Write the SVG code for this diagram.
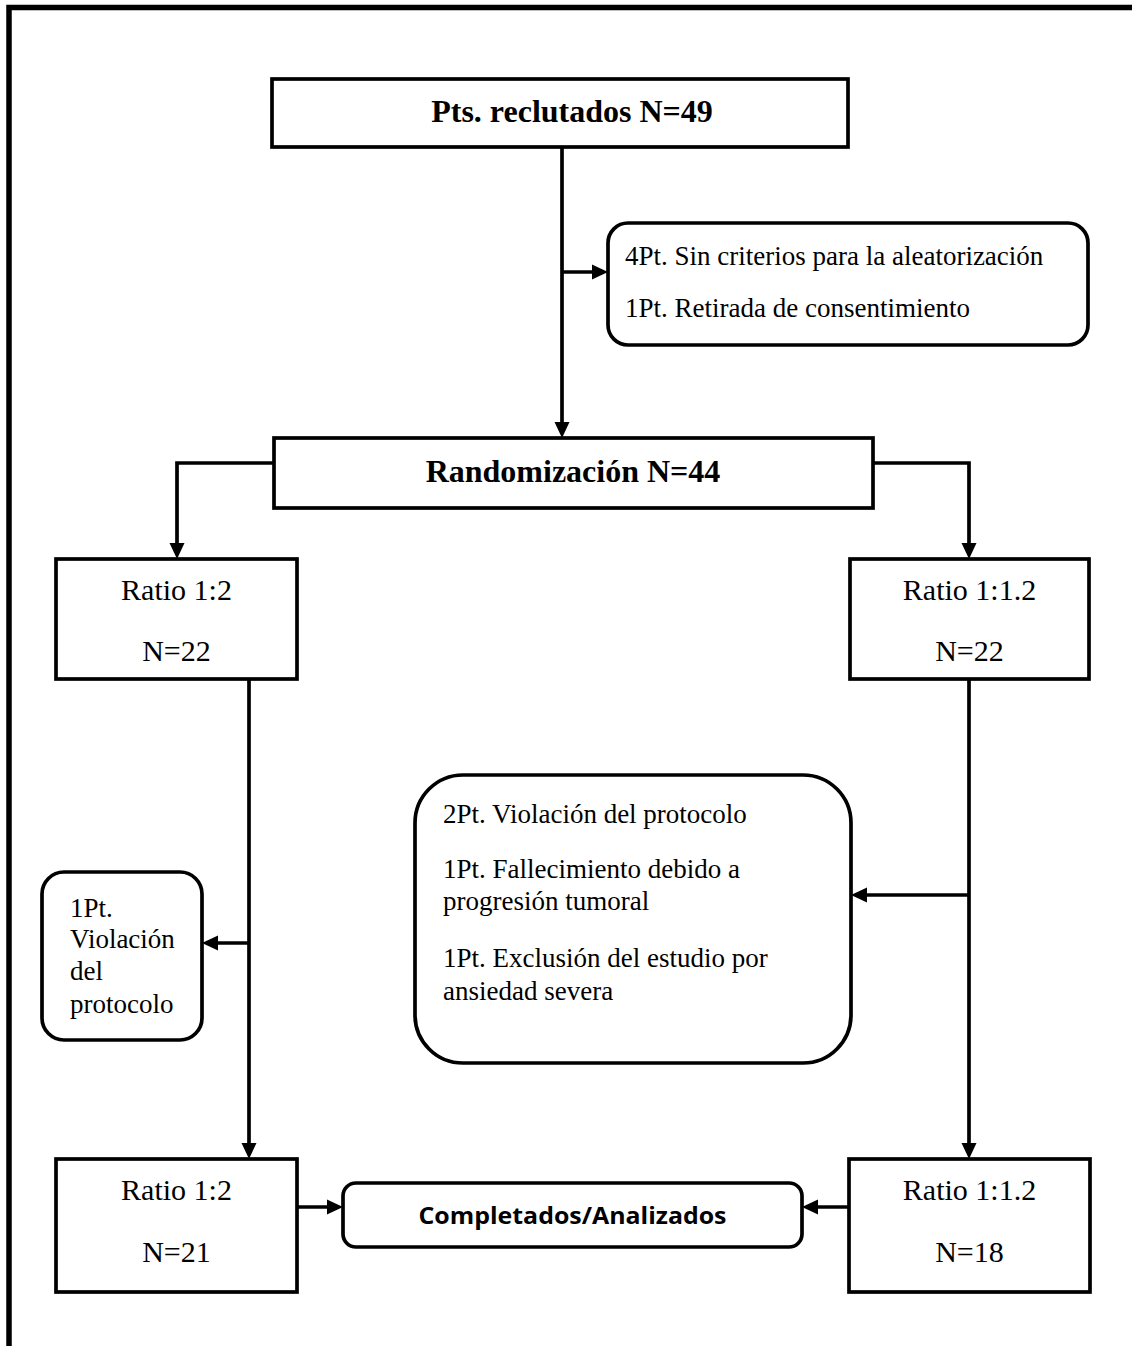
<svg xmlns="http://www.w3.org/2000/svg" width="1132" height="1346" viewBox="0 0 1132 1346">
<style>
.box{fill:#fff;stroke:#000;stroke-width:3.7}
.t{font-family:"Liberation Serif","Times New Roman",serif;fill:#000}
.tb{font-family:"Liberation Serif","Times New Roman",serif;font-weight:bold;font-size:32px;fill:#000;text-anchor:middle}
.r{font-size:30px;text-anchor:middle}
.s{font-size:27px}
.c{fill:none;stroke:#000;stroke-width:3.7}
</style>
<defs>
<marker id="ah" viewBox="0 0 16 16" refX="12" refY="8" markerWidth="16" markerHeight="16" markerUnits="userSpaceOnUse" orient="auto">
<path d="M0,0.5 L16,8 L0,15.5 z" fill="#000"/>
</marker>
</defs>
<rect width="1132" height="1346" fill="#fff"/>
<path d="M9,1346 V7.5 H1132" fill="none" stroke="#000" stroke-width="5.5"/>

<g id="connectors">
<path class="c" d="M562,147 V434" marker-end="url(#ah)"/>
<path class="c" d="M562,272 H604" marker-end="url(#ah)"/>
<path class="c" d="M274,463 H177 V555" marker-end="url(#ah)"/>
<path class="c" d="M873,463 H969 V555" marker-end="url(#ah)"/>
<path class="c" d="M249,678 V1155" marker-end="url(#ah)"/>
<path class="c" d="M249,943 H206" marker-end="url(#ah)"/>
<path class="c" d="M969,679 V1155" marker-end="url(#ah)"/>
<path class="c" d="M969,895 H855" marker-end="url(#ah)"/>
<path class="c" d="M297,1207 H339" marker-end="url(#ah)"/>
<path class="c" d="M849,1207 H806" marker-end="url(#ah)"/>
</g>

<g id="recruited">
<rect class="box" x="272" y="79" width="576" height="68"/>
<text class="tb" x="572" y="122">Pts. reclutados N=49</text>
</g>

<g id="excluded">
<rect class="box" x="608" y="223" width="480" height="122" rx="20"/>
<text class="t s" x="625" y="265">4Pt. Sin criterios para la aleatorización</text>
<text class="t s" x="625" y="317">1Pt. Retirada de consentimiento</text>
</g>

<g id="randomization">
<rect class="box" x="274" y="438" width="599" height="70"/>
<text class="tb" x="573" y="482">Randomización N=44</text>
</g>

<g id="ratio12-start">
<rect class="box" x="56" y="559" width="241" height="120"/>
<text class="t r" x="176.5" y="600">Ratio 1:2</text>
<text class="t r" x="176.5" y="661">N=22</text>
</g>

<g id="ratio112-start">
<rect class="box" x="850" y="559" width="239" height="120"/>
<text class="t r" x="969.5" y="600">Ratio 1:1.2</text>
<text class="t r" x="969.5" y="661">N=22</text>
</g>

<g id="lost-left">
<rect class="box" x="42" y="872" width="160" height="168" rx="22"/>
<text class="t s" x="70" y="917">1Pt.</text>
<text class="t s" x="70" y="948">Violación</text>
<text class="t s" x="70" y="980">del</text>
<text class="t s" x="70" y="1013">protocolo</text>
</g>

<g id="lost-right">
<rect class="box" x="415" y="775" width="436" height="288" rx="48"/>
<text class="t s" x="443" y="823">2Pt. Violación del protocolo</text>
<text class="t s" x="443" y="878">1Pt. Fallecimiento debido a</text>
<text class="t s" x="443" y="910">progresión tumoral</text>
<text class="t s" x="443" y="967">1Pt. Exclusión del estudio por</text>
<text class="t s" x="443" y="1000">ansiedad severa</text>
</g>

<g id="ratio12-end">
<rect class="box" x="56" y="1159" width="241" height="133"/>
<text class="t r" x="176.5" y="1200">Ratio 1:2</text>
<text class="t r" x="176.5" y="1262">N=21</text>
</g>

<g id="ratio112-end">
<rect class="box" x="849" y="1159" width="241" height="133"/>
<text class="t r" x="969.5" y="1200">Ratio 1:1.2</text>
<text class="t r" x="969.5" y="1262">N=18</text>
</g>

<g id="completed">
<rect class="box" x="343" y="1183" width="459" height="64" rx="13"/>
<text x="572.5" y="1224" font-family="'Open Sans','Liberation Sans',sans-serif" font-weight="bold" font-size="23" text-anchor="middle" textLength="308" lengthAdjust="spacingAndGlyphs">Completados/Analizados</text>
</g>
</svg>
